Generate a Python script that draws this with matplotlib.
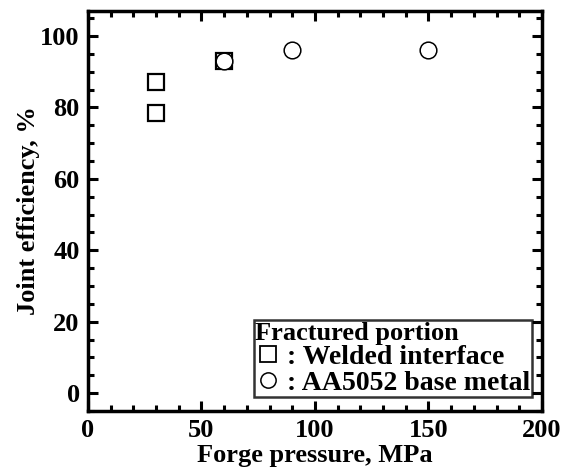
import matplotlib.pyplot as plt
from matplotlib.ticker import MultipleLocator
from matplotlib.lines import Line2D

plt.rcParams['font.family'] = ['Liberation Serif', 'DejaVu Serif']
plt.rcParams['font.weight'] = 'bold'

# fractured at welded interface
weld_x = [30, 30, 60]
weld_y = [87, 78.5, 93]
# fractured in AA5052 base metal
base_x = [60, 90, 150]
base_y = [93, 96, 96]

fig = plt.figure(figsize=(5.66, 4.75), dpi=100)
ax = fig.add_axes([0.1555, 0.1347, 0.802, 0.842])

ax.plot(weld_x, weld_y, ls='none', marker='s', ms=12, mfc='white', mec='black', mew=1.6)
ax.plot(base_x, base_y, ls='none', marker='o', ms=12, mfc='white', mec='black', mew=1.1)

ax.set_xlim(0, 200)
ax.set_ylim(-5, 107)
ax.xaxis.set_major_locator(MultipleLocator(50))
ax.xaxis.set_minor_locator(MultipleLocator(10))
ax.yaxis.set_major_locator(MultipleLocator(20))
ax.yaxis.set_minor_locator(MultipleLocator(5))
ax.tick_params(which='both', direction='in', top=True, right=True, width=2.2)
ax.tick_params(which='major', length=7, labelsize=19, pad=6)
ax.tick_params(which='minor', length=4)
for s in ax.spines.values():
    s.set_linewidth(2.5)

ax.set_xlabel('Forge pressure, MPa', fontsize=19, fontweight='bold', labelpad=1)
ax.set_ylabel('Joint efficiency, %', fontsize=19, fontweight='bold', labelpad=0)

handles = [
    Line2D([], [], ls='none', marker='s', ms=11, mfc='white', mec='black', mew=1.3),
    Line2D([], [], ls='none', marker='o', ms=11, mfc='white', mec='black', mew=1.1),
]
leg = ax.legend(handles, [': Welded interface', ': AA5052 base metal'],
                title='Fractured portion', loc='lower right',
                bbox_to_anchor=(0.978, 0.035), fontsize=20, title_fontsize=19,
                frameon=True, fancybox=False, edgecolor='black',
                handlelength=0.9, handletextpad=0.25, borderpad=0.05,
                labelspacing=0.0, borderaxespad=0, alignment='left')
leg.get_frame().set_linewidth(1.8)
leg.get_title().set_fontweight('bold')

fig.savefig('out.png', dpi=100)
